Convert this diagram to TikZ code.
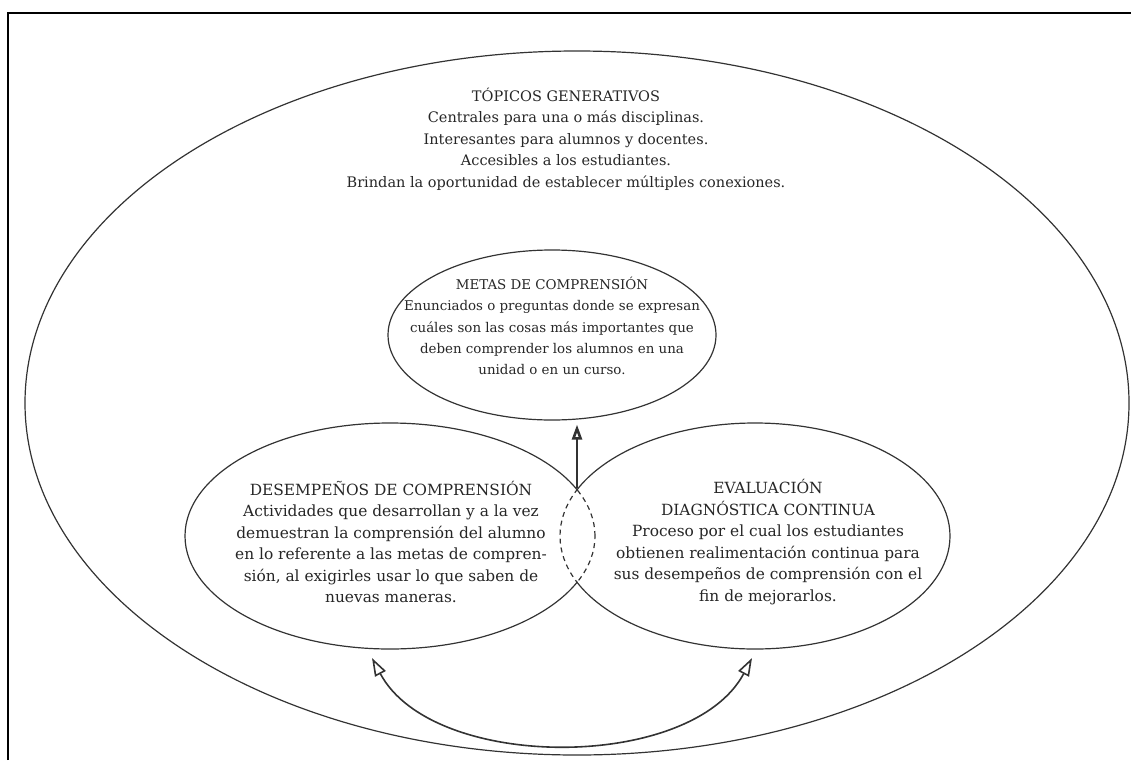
\documentclass[tikz,border=0pt]{standalone}
\usepackage{fontspec}
\setmainfont{DejaVu Serif}
\usepackage{tikz}
\usetikzlibrary{arrows.meta,positioning,shapes.geometric}
\definecolor{scanink}{HTML}{262626}
\definecolor{scanline}{HTML}{333333}
\tikzset{
  bubble/.style={draw=scanline, ellipse, line width=1.2pt, inner sep=0pt},
  lensLine/.style={bubble, dash pattern=on 5pt off 4pt},
  bubbleText/.style={text=scanink, align=center, inner sep=0pt, font=\fontsize{14.5}{21.5}\selectfont},
  loopArrow/.style={{Triangle[open,length=18pt,width=12pt]}-{Triangle[open,length=18pt,width=12pt]}, line width=1.6pt, draw=scanline},
  upArrow/.style={-{Triangle[open,length=15pt,width=10pt]}, line width=2.6pt, draw=scanline}
}

\begin{document}
\begin{tikzpicture}[x=1pt,y=-1pt]
  \useasboundingbox (0,0) rectangle (1131,760);
  % page frame
  \draw[line width=1.6pt] (8,760) -- (8,13) -- (1131,13);

  \node[bubble, minimum width=1104pt, minimum height=704pt] (topicos) at (577,403) {};
  \node[bubble, minimum width=328pt, minimum height=170pt] (metas) at (552,335) {};

  % the two lower ellipses, solid outside the overlap, dashed inside it
  \begin{scope}
    \clip (0,0) rectangle (577,760);
    \node[bubble, minimum width=410pt, minimum height=226pt] (desempenos) at (390,536) {};
    \node[lensLine, minimum width=390pt, minimum height=226pt] (evaluacionLens) at (755,536) {};
  \end{scope}
  \begin{scope}
    \clip (577,0) rectangle (1131,760);
    \node[bubble, minimum width=390pt, minimum height=226pt] (evaluacion) at (755,536) {};
    \node[lensLine, minimum width=410pt, minimum height=226pt] (desempenosLens) at (390,536) {};
  \end{scope}

  \node[bubbleText] (topicosText) at (566,139) {T\'OPICOS GENERATIVOS\\
    Centrales para una o más disciplinas.\\
    Interesantes para alumnos y docentes.\\
    Accesibles a los estudiantes.\\
    Brindan la oportunidad de establecer múltiples conexiones.};
  \node[bubbleText, font=\fontsize{13.4}{21.3}\selectfont] (metasText) at (552,326) {METAS DE COMPRENSIÓN\\
    Enunciados o preguntas donde se expresan\\
    cuáles son las cosas más importantes que\\
    deben comprender los alumnos en una\\
    unidad o en un curso.};
  \node[bubbleText, font=\fontsize{15.4}{21.5}\selectfont] (desempenosText) at (391,542) {DESEMPEÑOS DE COMPRENSIÓN\\
    Actividades que desarrollan y a la vez\\
    demuestran la comprensión del alumno\\
    en lo referente a las metas de compren-\\
    sión, al exigirles usar lo que saben de\\
    nuevas maneras.};
  \node[bubbleText, font=\fontsize{15.4}{21.5}\selectfont] (evaluacionText) at (768,542) {EVALUACIÓN\\
    DIAGNÓSTICA CONTINUA\\
    Proceso por el cual los estudiantes\\
    obtienen realimentación continua para\\
    sus desempeños de comprensión con el\\
    fin de mejorarlos.};

  \coordinate (cruce) at (577,488);
  \coordinate (loopL) at (372,658);
  \coordinate (loopR) at (752,658);
  \draw[upArrow, shorten >=4pt] (cruce) -- (cruce |- metas.south);
  \draw[loopArrow] (loopL) to[out=-62, in=-118, looseness=0.87] (loopR);
\end{tikzpicture}
\end{document}
